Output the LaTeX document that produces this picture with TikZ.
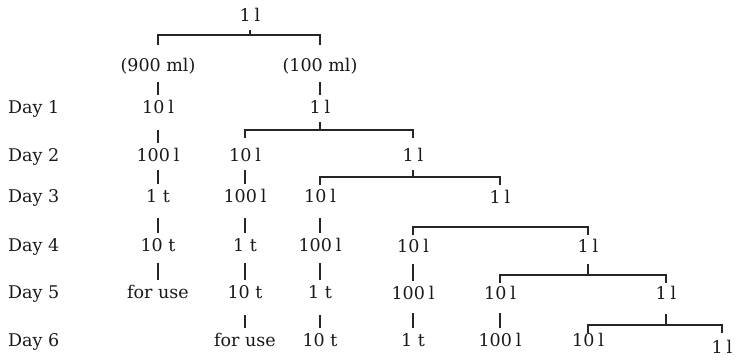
\documentclass[tikz,border=0pt]{standalone}
\usepackage{fontspec}
\setmainfont{DejaVu Serif}
\usetikzlibrary{calc}
\newcommand{\lsp}{\hspace{0.22em}}
\begin{document}
\begin{tikzpicture}[x=1pt,y=-1pt,
  lbl/.style={font=\fontsize{17.5}{20}\selectfont, text=black!90, text height=12pt, text depth=3pt, inner xsep=0pt, inner ysep=6pt, anchor=base},
  day/.style={lbl, anchor=base west},
  ln/.style={line width=1.3pt, draw=black!85}]
\useasboundingbox (0,0) rectangle (736,359);
% day labels
\node[day] (L1) at (8,113) {Day 1};
\node[day] (L2) at (8,161) {Day 2};
\node[day] (L3) at (8,202) {Day 3};
\node[day] (L4) at (8,251) {Day 4};
\node[day] (L5) at (8,298) {Day 5};
\node[day] (L6) at (8,346) {Day 6};
% nodes
\node[lbl] (t0) at (250,21) {1\lsp l};
\node[lbl] (m1) at (158,71) {(900 ml)};
\node[lbl] (m2) at (320,71) {(100 ml)};
\node[lbl] (d1a) at (158,113) {10\lsp l};
\node[lbl] (d1c) at (320,113) {1\lsp l};
\node[lbl] (d2a) at (158,161) {100\lsp l};
\node[lbl] (d2b) at (245,161) {10\lsp l};
\node[lbl] (d2d) at (413,161) {1\lsp l};
\node[lbl] (d3a) at (158,202) {1 t};
\node[lbl] (d3b) at (245,202) {100\lsp l};
\node[lbl] (d3c) at (320,202) {10\lsp l};
\node[lbl] (d3e) at (500,203) {1\lsp l};
\node[lbl] (d4a) at (158,251) {10 t};
\node[lbl] (d4b) at (245,251) {1 t};
\node[lbl] (d4c) at (320,251) {100\lsp l};
\node[lbl] (d4d) at (413,252) {10\lsp l};
\node[lbl] (d4f) at (588,252) {1\lsp l};
\node[lbl] (d5a) at (158,298) {for use};
\node[lbl] (d5b) at (245,298) {10 t};
\node[lbl] (d5c) at (320,298) {1 t};
\node[lbl] (d5d) at (413,299) {100\lsp l};
\node[lbl] (d5e) at (500,299) {10\lsp l};
\node[lbl] (d5g) at (666,299) {1\lsp l};
\node[lbl] (d6b) at (245,346) {for use};
\node[lbl] (d6c) at (320,346) {10 t};
\node[lbl] (d6d) at (413,346) {1 t};
\node[lbl] (d6e) at (500,346) {100\lsp l};
\node[lbl] (d6f) at (588,346) {10\lsp l};
\node[lbl] (d6h) at (722,353) {1\lsp l};
% bracket levels
\coordinate (y1) at (0,35);
\coordinate (y2) at (0,130);
\coordinate (y3) at (0,177);
\coordinate (y4) at (0,227);
\coordinate (y5) at (0,275);
\coordinate (y6) at (0,325);
% brackets
\draw[ln] (t0.south) -- (t0.south |- y1);
\draw[ln] ($(m1.north |- y1)+(0,-10pt)$) -- (m1.north |- y1) -- (m2.north |- y1) -- ($(m2.north |- y1)+(0,-10pt)$);
\draw[ln] (d1c.south) -- (d1c.south |- y2);
\draw[ln] ($(d2b.north |- y2)+(0,-8pt)$) -- (d2b.north |- y2) -- (d2d.north |- y2) -- ($(d2d.north |- y2)+(0,-8pt)$);
\draw[ln] (d2d.south) -- (d2d.south |- y3);
\draw[ln] ($(d3c.north |- y3)+(0,-8pt)$) -- (d3c.north |- y3) -- (d3e.north |- y3) -- ($(d3e.north |- y3)+(0,-8pt)$);
\draw[ln] ($(d4d.north |- y4)+(0,-8pt)$) -- (d4d.north |- y4) -- (d4f.north |- y4) -- ($(d4f.north |- y4)+(0,-8pt)$);
\draw[ln, shorten <=3pt] (d4f.south) -- (d4f.south |- y5);
\draw[ln] ($(d5e.north |- y5)+(0,-8pt)$) -- (d5e.north |- y5) -- (d5g.north |- y5) -- ($(d5g.north |- y5)+(0,-8pt)$);
\draw[ln, shorten <=6pt] (d5g.south) -- (d5g.south |- y6);
\draw[ln] ($(d6f.north |- y6)+(0,-8pt)$) -- (d6f.north |- y6) -- (d6h.north |- y6) -- ($(d6h.north |- y6)+(0,-8pt)$);
% stubs
\draw[ln, shorten <=2pt] (m1.south) -- (d1a.north);
\draw[ln, shorten <=2pt] (m2.south) -- (d1c.north);
\draw[ln, shorten <=8pt] (d1a.south) -- (d2a.north);
\draw[ln] (d2a.south) -- (d3a.north);
\draw[ln] (d2b.south) -- (d3b.north);
\draw[ln, shorten <=7pt] (d3a.south) -- (d4a.north);
\draw[ln, shorten <=7pt] (d3b.south) -- (d4b.north);
\draw[ln, shorten <=7pt] (d3c.south) -- (d4c.north);
\draw[ln, shorten <=3pt] (d4a.south) -- (d5a.north);
\draw[ln, shorten <=3pt] (d4b.south) -- (d5b.north);
\draw[ln, shorten <=3pt] (d4c.south) -- (d5c.north);
\draw[ln, shorten <=3pt] (d4d.south) -- (d5d.north);
\draw[ln, shorten <=8pt] (d5b.south) -- (d6b.north);
\draw[ln, shorten <=8pt] (d5c.south) -- (d6c.north);
\draw[ln, shorten <=5pt] (d5d.south) -- (d6d.north);
\draw[ln, shorten <=5pt] (d5e.south) -- (d6e.north);
\end{tikzpicture}
\end{document}
